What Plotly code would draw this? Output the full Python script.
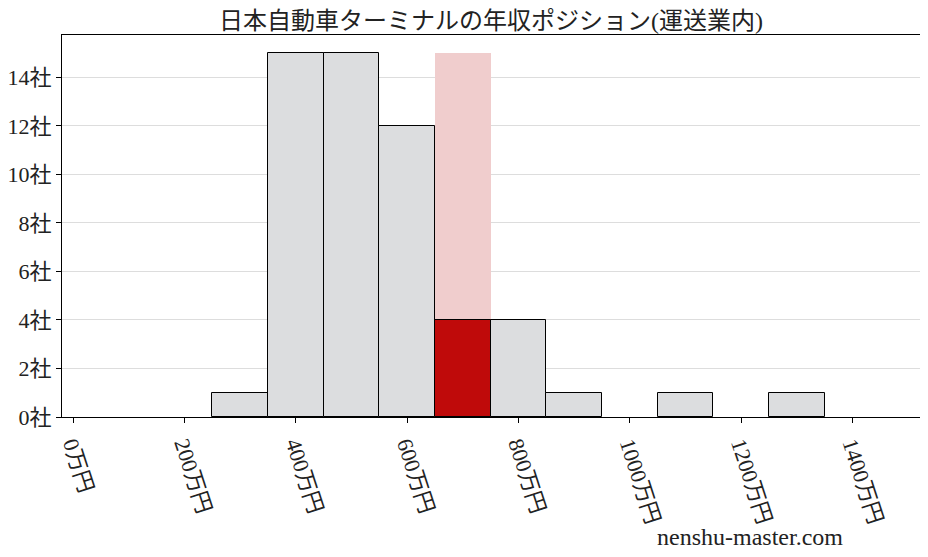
"""
Annual income position chart for 日本自動車ターミナル within the transport industry
"""

import plotly.graph_objects as go

# Histogram bins (center of each 100万円 bin) and number of companies
bin_centers = [300, 400, 500, 600, 700, 800, 900, 1000, 1100, 1200, 1300, 1400]
company_counts = [1, 15, 15, 12, 4, 4, 1, 0, 1, 0, 1, 0]

# The bin where this company sits
highlight_center = 700
highlight_count = 4
highlight_height = 15

x_tick_values = [0, 200, 400, 600, 800, 1000, 1200, 1400]
x_tick_labels = ['0万円', '200万円', '400万円', '600万円', '800万円',
                 '1000万円', '1200万円', '1400万円']
y_tick_values = [0, 2, 4, 6, 8, 10, 12, 14]
y_tick_labels = ['0社', '2社', '4社', '6社', '8社', '10社', '12社', '14社']

FONT = 'Liberation Serif, DejaVu Serif, Noto Sans CJK JP, serif'


def create_chart():
    fig = go.Figure()

    # Pink column marking the company's bin
    fig.add_trace(go.Bar(
        x=[highlight_center],
        y=[highlight_height],
        width=100,
        marker=dict(color='#f0cdcd', line=dict(width=0)),
        hoverinfo='skip'
    ))

    # Grey histogram (skip the highlighted bin and empty bins)
    gx = [c for c, n in zip(bin_centers, company_counts)
          if c != highlight_center and n > 0]
    gy = [n for c, n in zip(bin_centers, company_counts)
          if c != highlight_center and n > 0]
    fig.add_trace(go.Bar(
        x=gx,
        y=gy,
        width=100,
        marker=dict(color='#dcdddf', line=dict(color='black', width=1))
    ))

    # Red bar for the company's bin
    fig.add_trace(go.Bar(
        x=[highlight_center],
        y=[highlight_count],
        width=100,
        marker=dict(color='#bf0a0a', line=dict(color='black', width=1))
    ))

    fig.update_layout(
        title={
            'text': '日本自動車ターミナルの年収ポジション(運送業内)',
            'xref': 'paper',
            'x': 0.5,
            'xanchor': 'center',
            'y': 0.977,
            'yanchor': 'middle',
            'font': {'size': 24, 'family': FONT, 'color': '#222'},
            'automargin': False
        },
        barmode='overlay',
        bargap=0,
        showlegend=False,
        width=928,
        height=557,
        plot_bgcolor='white',
        paper_bgcolor='white',
        font=dict(family=FONT, size=22, color='#222'),
        margin=dict(l=54, r=16, t=27, b=148),
        xaxis=dict(
            range=[-20, 1521],
            tickmode='array',
            tickvals=x_tick_values,
            ticktext=x_tick_labels,
            tickangle=72,
            ticks='outside',
            ticklen=5,
            tickcolor='black',
            showgrid=False,
            showline=True,
            linecolor='black',
            linewidth=1,
            mirror=True,
            zeroline=False,
            automargin=False,
            tickfont=dict(size=22)
        ),
        yaxis=dict(
            range=[0, 15.75],
            tickmode='array',
            tickvals=y_tick_values,
            ticktext=y_tick_labels,
            ticks='outside',
            ticklen=5,
            tickcolor='black',
            gridcolor='#dddddd',
            gridwidth=1,
            showline=True,
            linecolor='black',
            linewidth=1,
            mirror=True,
            zeroline=False,
            automargin=False,
            tickfont=dict(size=22)
        ),
        annotations=[dict(
            text='nenshu-master.com',
            xref='paper', yref='paper',
            x=0.802, y=-0.314,
            xanchor='center', yanchor='middle',
            showarrow=False,
            font=dict(size=24, family=FONT, color='#222')
        )]
    )

    return fig


def main():
    fig = create_chart()
    fig.write_html('out.html')


if __name__ == '__main__':
    main()
